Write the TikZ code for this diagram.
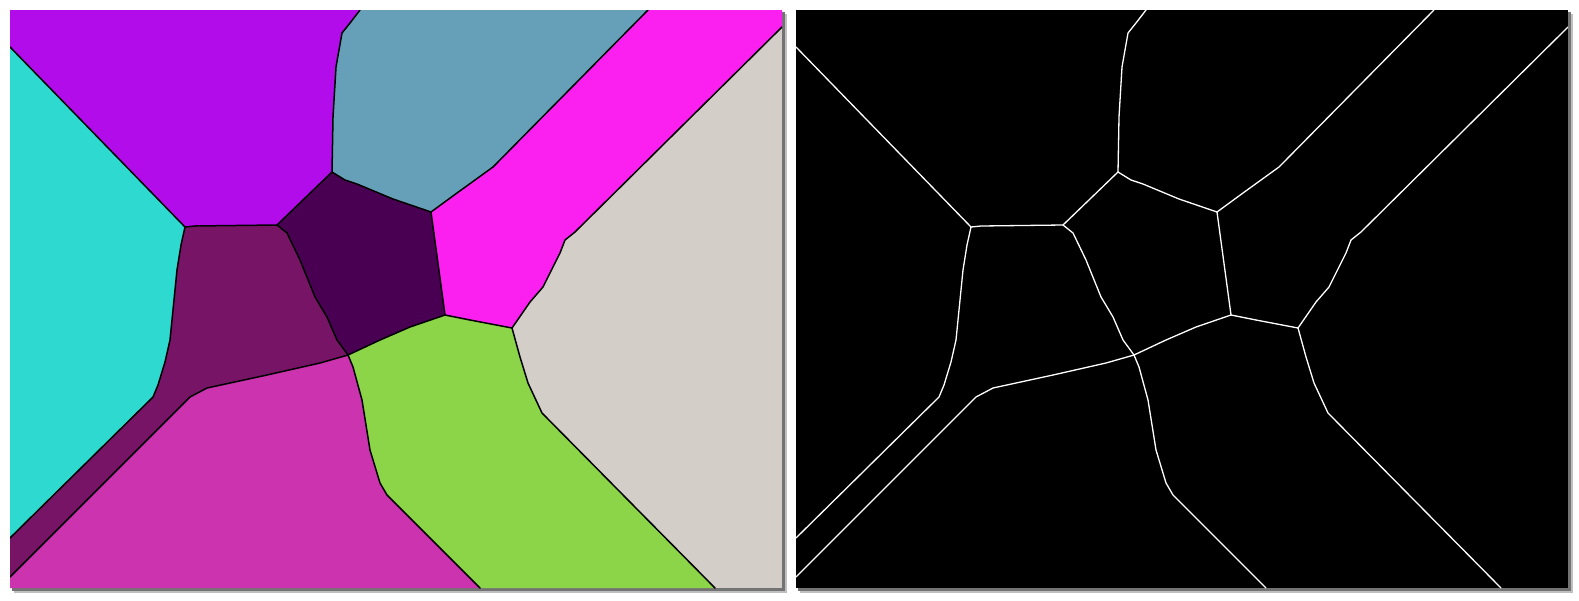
\documentclass[tikz,border=0pt]{standalone}
\definecolor{cCyan}{RGB}{46,218,208}
\definecolor{cPurple}{RGB}{178,12,234}
\definecolor{cSteel}{RGB}{102,160,184}
\definecolor{cMagenta}{RGB}{251,31,240}
\definecolor{cLight}{RGB}{211,207,200}
\definecolor{cGreen}{RGB}{140,212,72}
\definecolor{cPink}{RGB}{203,51,175}
\definecolor{cDarkMag}{RGB}{119,20,102}
\definecolor{cDarkPur}{RGB}{74,0,82}
\newcommand{\voredges}[1]{%
  \draw[#1] (10,47) -- (185,227);
  \draw[#1] (185,227) -- (195,226) -- (277,225);
  \draw[#1] (277,225) -- (332,172);
  \draw[#1] (332,172) -- (333,117) -- (336,67) -- (342,33) -- (350,23) -- (360,10);
  \draw[#1] (332,172) -- (345,180) -- (357,184) -- (393,199) -- (431,212);
  \draw[#1] (431,212) -- (457,193) -- (475,180) -- (493,167) -- (648,10);
  \draw[#1] (782,27) -- (575,232) -- (565,240) -- (560,253) -- (550,273) -- (543,287) -- (530,302) -- (512,328);
  \draw[#1] (431,212) -- (445,315);
  \draw[#1] (445,315) -- (470,320) -- (512,328);
  \draw[#1] (445,315) -- (410,327) -- (380,340) -- (348,355);
  \draw[#1] (277,225) -- (287,233) -- (300,260) -- (315,297) -- (327,317) -- (337,340) -- (348,355);
  \draw[#1] (185,227) -- (181,245) -- (177,270) -- (174,300) -- (170,340) -- (165,362) -- (158,385) -- (153,397) -- (10,538);
  \draw[#1] (348,355) -- (320,363) -- (267,375) -- (207,388) -- (190,397) -- (10,577);
  \draw[#1] (348,355) -- (353,367) -- (362,400) -- (370,450) -- (380,483) -- (387,495) -- (480,588);
  \draw[#1] (512,328) -- (520,357) -- (528,383) -- (542,413) -- (715,588);
}
\tikzset{
  edgeline/.style={line width=1.5pt, line join=round, line cap=round},
  shadowA/.style={fill=black!25},
  shadowB/.style={fill=black!55}
}
\begin{document}
\begin{tikzpicture}[x=1pt,y=-1pt]
\useasboundingbox (0,0) rectangle (1579,600);
\fill[white] (0,0) rectangle (1579,600);
% shadows
\foreach \dx in {0,786}{
  \fill[shadowA] (14+\dx,14) rectangle (787+\dx,593);
  \fill[shadowB] (12+\dx,12) rectangle (785+\dx,591);
}
% left panel regions
\fill[cLight] (10,10) rectangle (782,588);
\fill[cCyan] (10,47) -- (185,227) -- (181,245) -- (177,270) -- (174,300) -- (170,340) -- (165,362) -- (158,385) -- (153,397) -- (10,538) -- cycle;
\fill[cPurple] (10,10) -- (360,10) -- (350,23) -- (342,33) -- (336,67) -- (333,117) -- (332,172) -- (277,225) -- (195,226) -- (185,227) -- (10,47) -- cycle;
\fill[cSteel] (360,10) -- (648,10) -- (493,167) -- (475,180) -- (457,193) -- (431,212) -- (393,199) -- (357,184) -- (345,180) -- (332,172) -- (333,117) -- (336,67) -- (342,33) -- (350,23) -- cycle;
\fill[cMagenta] (648,10) -- (782,10) -- (782,27) -- (575,232) -- (565,240) -- (560,253) -- (550,273) -- (543,287) -- (530,302) -- (512,328) -- (470,320) -- (445,315) -- (431,212) -- (457,193) -- (475,180) -- (493,167) -- cycle;
\fill[cGreen] (512,328) -- (520,357) -- (528,383) -- (542,413) -- (715,588) -- (480,588) -- (387,495) -- (380,483) -- (370,450) -- (362,400) -- (353,367) -- (348,355) -- (380,340) -- (410,327) -- (445,315) -- (470,320) -- cycle;
\fill[cPink] (348,355) -- (353,367) -- (362,400) -- (370,450) -- (380,483) -- (387,495) -- (480,588) -- (10,588) -- (10,577) -- (190,397) -- (207,388) -- (267,375) -- (320,363) -- cycle;
\fill[cDarkMag] (185,227) -- (195,226) -- (277,225) -- (287,233) -- (300,260) -- (315,297) -- (327,317) -- (337,340) -- (348,355) -- (320,363) -- (267,375) -- (207,388) -- (190,397) -- (10,577) -- (10,538) -- (153,397) -- (158,385) -- (165,362) -- (170,340) -- (174,300) -- (177,270) -- (181,245) -- cycle;
\fill[cDarkPur] (277,225) -- (332,172) -- (345,180) -- (357,184) -- (393,199) -- (431,212) -- (445,315) -- (410,327) -- (380,340) -- (348,355) -- (337,340) -- (327,317) -- (315,297) -- (300,260) -- (287,233) -- cycle;
\begin{scope}
  \clip (10,10) rectangle (782,588);
  \voredges{edgeline, black}
\end{scope}
% right panel
\fill[black] (796,10) rectangle (1568,588);
\begin{scope}[shift={(786,0)}]
  \clip (10,10) rectangle (782,588);
  \voredges{edgeline, white, line width=1.3pt}
\end{scope}
\end{tikzpicture}
\end{document}
